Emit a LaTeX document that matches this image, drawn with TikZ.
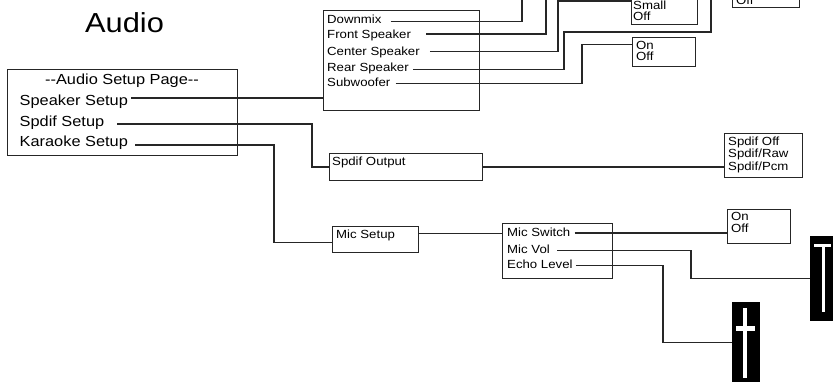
\documentclass[tikz,border=0pt]{standalone}
\usepackage{fontspec}
\setmainfont[FakeStretch=1.12]{Liberation Sans}
\begin{document}
\begin{tikzpicture}[x=1pt,y=-1pt,
  conn/.style={line width=1.1pt, draw=black!85},
  box/.style={draw=black!85, line width=1.1pt, inner sep=0pt, anchor=north west},
  mtxt/.style={inner sep=0pt, anchor=west, font=\fontsize{14.6}{16}\selectfont, text height=10.45pt, text depth=0pt},
  stxt/.style={inner sep=0pt, anchor=west, font=\fontsize{11.8}{12}\selectfont, text height=8.45pt, text depth=0pt},
  slider/.style={fill=black, inner sep=0pt, anchor=north west},
  knob/.style={fill=white}]
\clip (0,0) rectangle (833,382);

% title
\node[inner sep=0pt, anchor=west, font=\fontsize{27.5}{30}\selectfont, text height=19.7pt, text depth=0pt] (title) at (85,22.5) {Audio};

% audio setup page
\node[box, minimum width=230pt, minimum height=86pt] (asp) at (7,69) {};
\node[mtxt, anchor=center] (tHdr) at (122,79) {-{}-Audio Setup Page-{}-};
\node[mtxt] (tSpk) at (19.5,100.5) {Speaker Setup};
\node[mtxt] (tSpd) at (19.5,121) {Spdif Setup};
\node[mtxt] (tKar) at (19.5,141.7) {Karaoke Setup};

% speaker setup menu
\node[box, minimum width=156pt, minimum height=100pt] (dm) at (323,10) {};
\node[stxt] (tDm) at (327,18.8) {Downmix};
\node[stxt] (tFs) at (327,33.8) {Front Speaker};
\node[stxt] (tCs) at (327,50.8) {Center Speaker};
\node[stxt] (tRs) at (327,66.8) {Rear Speaker};
\node[stxt] (tSw) at (327,82.5) {Subwoofer};

% option boxes at top
\node[box, minimum width=66pt, minimum height=45pt, anchor=south west] (smb) at (631,25) {};
\node[stxt] (tSm) at (633,5.1) {Small};
\node[stxt] (tSmO) at (633,16.5) {Off};
\node[box, minimum width=63pt, minimum height=29pt] (oo1) at (632,37) {};
\node[stxt] (tOn1) at (636,44.8) {On};
\node[stxt] (tOff1) at (636,56.5) {Off};
\node[box, minimum width=67pt, minimum height=30pt, anchor=south west] (trb) at (732,8) {};
\node[stxt] (tTr) at (736,0.3) {Off};

% spdif
\node[box, minimum width=153pt, minimum height=27pt] (so) at (329,153) {};
\node[stxt] (tSo) at (332,161.4) {Spdif Output};
\node[box, minimum width=78pt, minimum height=44pt] (sop) at (724,133) {};
\node[stxt] (tSo1) at (728,141) {Spdif Off};
\node[stxt] (tSo2) at (728,153.4) {Spdif/Raw};
\node[stxt] (tSo3) at (728,165.8) {Spdif/Pcm};

% karaoke
\node[box, minimum width=86pt, minimum height=26pt] (ms) at (332,226) {};
\node[stxt] (tMs) at (336,234) {Mic Setup};
\node[box, minimum width=110pt, minimum height=55pt] (msw) at (502,223) {};
\node[stxt] (tMsw) at (507,232.2) {Mic Switch};
\node[stxt] (tMv) at (507,249.2) {Mic Vol};
\node[stxt] (tEl) at (507,264.2) {Echo Level};
\node[box, minimum width=63pt, minimum height=34pt] (oo2) at (727,209) {};
\node[stxt] (tOn2) at (731,216.3) {On};
\node[stxt] (tOff2) at (731,227.8) {Off};

% sliders
\node[slider, minimum width=27pt, minimum height=85pt] (sl1) at (810,236) {};
\fill[knob] (814,244) rectangle (831,247);
\fill[knob] (822,244) rectangle (825,312);
\node[slider, minimum width=28pt, minimum height=80pt] (sl2) at (732,302) {};
\fill[knob] (736,326) rectangle (755,331);
\fill[knob] (743,308) rectangle (747,378);

% free ends / bends
\coordinate (dmTop) at (522,-2);
\coordinate (fsTop) at (546,-2);
\coordinate (cK) at (558,1);
\coordinate (rK) at (564,32);
\coordinate (rTop) at (711,-2);
\coordinate (sK) at (582,44.5);

% connectors
\draw[conn] ([xshift=3pt,yshift=2.5pt]tSpk.east) coordinate (a1) -- (a1 -| dm.west);
\draw[conn] ([xshift=13pt,yshift=-3pt]tSpd.east) -| ([xshift=-17pt]so.west) -- (so.west);
\draw[conn] ([xshift=7pt,yshift=-3.3pt]tKar.east) -| ([xshift=-58pt,yshift=-3pt]ms.west) -- ([yshift=-3pt]ms.west);

\draw[conn] ([xshift=9pt,yshift=-2.9pt]tDm.east) -| (dmTop);
\draw[conn] ([xshift=15pt,yshift=-0.2pt]tFs.east) -| (fsTop);
\draw[conn] ([xshift=10pt,yshift=-0.9pt]tCs.east) -| (cK) -- (cK -| smb.west);
\draw[conn] ([xshift=4pt,yshift=-2.5pt]tRs.east) -| (rK) -| (rTop);
\draw[conn] ([xshift=5pt,yshift=-0.8pt]tSw.east) -| (sK) -- (sK -| oo1.west);

\draw[conn] (so.east) -- (so.east -| sop.west);

\draw[conn] ([yshift=6pt]ms.east) coordinate (a2) -- (a2 -| msw.west);
\draw[conn] ([xshift=4pt,yshift=-0.8pt]tMsw.east) coordinate (a3) -- (a3 -| oo2.west);
\draw[conn] ([xshift=7pt,yshift=-1.5pt]tMv.east) -| ([xshift=-119pt]sl1.west) -- (sl1.west);
\draw[conn] ([xshift=3pt,yshift=-1.5pt]tEl.east) -| ([xshift=-69pt]sl2.west) -- (sl2.west);
\end{tikzpicture}
\end{document}
